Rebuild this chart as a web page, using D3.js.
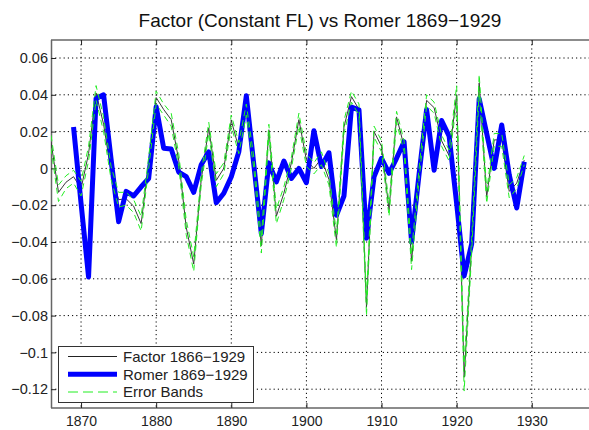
<!DOCTYPE html>
<html><head><meta charset="utf-8">
<script src="https://cdn.jsdelivr.net/npm/d3@7"></script>
<style>body{margin:0;background:#fff}svg{display:block;font-family:"Liberation Sans",Arial,sans-serif}</style>
</head><body><svg id="c" width="589" height="430"></svg>
<script>
const title = "Factor (Constant FL) vs Romer 1869\u22121929";
const factorYears = d3.range(1866, 1930);
const factor = [0.0145,-0.0130,-0.0075,-0.0045,-0.0110,0.0080,0.0410,0.0240,-0.0020,-0.0170,
  -0.0165,-0.0205,-0.0300,0.0030,0.0385,0.0320,0.0265,0.0045,-0.0320,-0.0520,
  -0.0060,0.0220,-0.0065,0.0000,0.0260,0.0110,0.0320,0.0030,-0.0420,0.0210,
  -0.0260,-0.0135,0.0030,0.0265,0.0045,0.0000,0.0055,-0.0060,-0.0390,0.0225,
  0.0390,0.0320,-0.0755,0.0200,0.0120,-0.0225,0.0280,0.0120,-0.0505,-0.0030,
  0.0370,0.0330,0.0150,0.0070,0.0400,-0.1135,-0.0420,0.0465,-0.0155,0.0155,
  0.0155,-0.0125,-0.0080,0.0045];
const bandUpper = [0.018,-0.009,-0.004,-0.001,-0.007,0.012,0.045,0.028,0.001,-0.013,
  -0.013,-0.017,-0.026,0.006,0.042,0.035,0.030,0.008,-0.028,-0.048,
  -0.003,0.025,-0.003,0.003,0.029,0.014,0.035,0.006,-0.038,0.024,
  -0.022,-0.010,0.006,0.030,0.008,0.003,0.009,-0.003,-0.035,0.026,
  0.042,0.035,-0.071,0.023,0.015,-0.019,0.031,0.015,-0.046,0.000,
  0.040,0.036,0.018,0.010,0.045,-0.106,-0.038,0.051,-0.012,0.019,
  0.019,-0.009,-0.005,0.007];
const bandLower = [0.011,-0.018,-0.011,-0.008,-0.015,0.004,0.037,0.020,-0.006,-0.021,
  -0.020,-0.024,-0.034,0.000,0.035,0.029,0.023,0.001,-0.036,-0.056,
  -0.009,0.019,-0.010,-0.003,0.023,0.008,0.029,0.000,-0.046,0.018,
  -0.030,-0.017,0.000,0.023,0.001,-0.003,0.002,-0.009,-0.043,0.019,
  0.036,0.029,-0.080,0.017,0.009,-0.026,0.025,0.009,-0.055,-0.006,
  0.034,0.030,0.012,0.004,0.036,-0.121,-0.046,0.042,-0.019,0.012,
  0.012,-0.016,-0.011,0.002];
const romerYears = d3.range(1869, 1930);
const romer = [0.0225,-0.0190,-0.0590,0.0380,0.0400,0.0050,-0.0290,-0.0125,-0.0150,-0.0100,
  -0.0055,0.0335,0.0110,0.0105,-0.0020,-0.0045,-0.0130,0.0020,0.0090,-0.0187,
  -0.0135,-0.0045,0.0090,0.0395,0.0020,-0.0355,0.0030,-0.0073,0.0040,-0.0055,
  0.0000,-0.0078,0.0205,0.0010,0.0085,-0.0255,-0.0150,0.0333,0.0318,-0.0380,
  -0.0046,0.0055,-0.0027,0.0055,0.0145,-0.0400,-0.0030,0.0320,-0.0010,0.0260,
  0.0175,-0.0190,-0.0585,-0.0410,0.0378,0.0190,0.0000,0.0236,-0.0035,-0.0215,
  0.0036];
const xTicks = [1870,1880,1890,1900,1910,1920,1930];
const yTicks = [0.06,0.04,0.02,0,-0.02,-0.04,-0.06,-0.08,-0.1,-0.12];
const legendLabels = ["Factor 1866\u22121929","Romer 1869\u22121929","Error Bands"];

const svg = d3.select("#c");
const L = 51, T = 40, B = 408, R = 589;
const x = d3.scaleLinear().domain([1866, 1938]).range([L, L + 7.512*72]);
const y = d3.scaleLinear().domain([-0.13, 0.07]).range([407.6, 39.6]);
const fmt = v => v === 0 ? "0" : (v < 0 ? "\u2212" : "") + String(Math.abs(v));

svg.append("defs").append("clipPath").attr("id","clip").append("rect")
  .attr("x", L).attr("y", T).attr("width", R - L).attr("height", B - T);

// grid
const grid = svg.append("g").attr("stroke","#000").attr("stroke-width",1).attr("stroke-dasharray","1.2,3");
grid.selectAll("line.v").data(xTicks).join("line")
  .attr("x1", d => x(d)).attr("x2", d => x(d)).attr("y1", T).attr("y2", B);
grid.selectAll("line.h").data(yTicks).join("line")
  .attr("x1", L).attr("x2", R).attr("y1", d => y(d)).attr("y2", d => y(d));

// axes
const axB = svg.append("g").attr("transform", `translate(0,${B})`)
  .call(d3.axisBottom(x).tickValues(xTicks).tickSizeInner(-5).tickSizeOuter(0).tickPadding(8).tickFormat(d3.format("d")));
const axT = svg.append("g").attr("transform", `translate(0,${T})`)
  .call(d3.axisTop(x).tickValues(xTicks).tickSizeInner(-5).tickSizeOuter(0).tickFormat(""));
const axL = svg.append("g").attr("transform", `translate(${L},0)`)
  .call(d3.axisLeft(y).tickValues(yTicks).tickSizeInner(-5).tickSizeOuter(0).tickPadding(3).tickFormat(fmt));
[axB, axT, axL].forEach(a => {
  a.select(".domain").attr("stroke","#666").attr("stroke-width",1.5);
  a.selectAll(".tick line").attr("stroke","#222");
  a.selectAll("text").attr("font-size",14).attr("fill","#222").attr("font-family",'"Liberation Sans",Arial,sans-serif');
});
axL.selectAll("text").attr("font-size",14.5);
axB.select(".domain").attr("d", `M${L},0H${R}`);
axT.select(".domain").attr("d", `M${L},0H${R}`);

// lines
const plot = svg.append("g").attr("clip-path","url(#clip)");
const line = d3.line().x(d => x(d[0])).y(d => y(d[1]));
plot.append("path").datum(d3.zip(factorYears, factor))
  .attr("d", line).attr("fill","none").attr("stroke","#3a3a3a").attr("stroke-width",1);
plot.append("path").datum(d3.zip(romerYears, romer))
  .attr("d", line).attr("fill","none").attr("stroke","#0000ff").attr("stroke-width",5).attr("stroke-linejoin","round");
[bandUpper, bandLower].forEach(b => {
  plot.append("path").datum(d3.zip(factorYears, b))
    .attr("d", line).attr("fill","none").attr("stroke","#22ee22").attr("stroke-width",1).attr("stroke-dasharray","6,4");
});

// title
svg.append("text").attr("x", 320).attr("y", 27).attr("text-anchor","middle")
  .attr("font-size",19).attr("fill","#111").text(title);

// legend
const lg = svg.append("g");
lg.append("rect").attr("x",58.5).attr("y",346.5).attr("width",195).attr("height",56)
  .attr("fill","#fff").attr("stroke","#333").attr("stroke-width",1);
const rows = [356.5, 374.2, 392];
const styles = [
  {stroke:"#222", w:1, dash:null},
  {stroke:"#0000ff", w:5, dash:null},
  {stroke:"#22ee22", w:1, dash:"10,5"}];
legendLabels.forEach((t,i) => {
  lg.append("line").attr("x1",68).attr("x2",117).attr("y1",rows[i]).attr("y2",rows[i])
    .attr("stroke",styles[i].stroke).attr("stroke-width",styles[i].w).attr("stroke-dasharray",styles[i].dash);
  lg.append("text").attr("x",123).attr("y",rows[i]).attr("dy","0.36em")
    .attr("font-size",15).attr("fill","#222").text(t);
});
</script></body></html>
